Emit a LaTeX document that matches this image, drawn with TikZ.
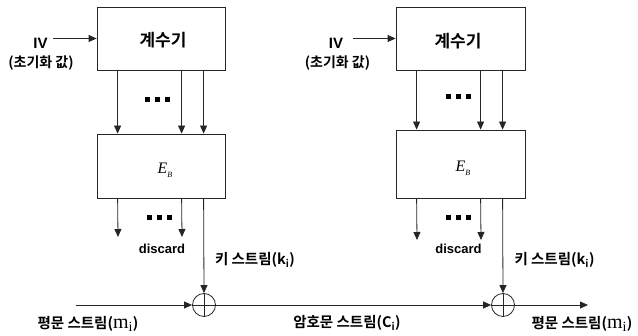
\documentclass[tikz,border=0pt]{standalone}
\usepackage{fontspec}
\setmainfont{Liberation Sans}
\newfontfamily\kr{Noto Sans CJK KR Bold}
\newfontfamily\tnr{Liberation Serif}
\usetikzlibrary{arrows.meta}
\newcommand\threedots[2]{\foreach \k in {-10,0,10}{\fill (#1+\k-2.5,#2-2.5) rectangle ++(5,5);}}
\begin{document}
\begin{tikzpicture}[x=1pt,y=-1pt,
  ln/.style={line width=0.8pt, draw=black!85},
  arr/.style={ln, -{Triangle[length=8pt,width=7pt]}},
  box/.style={draw=black!85, line width=0.8pt, minimum width=128pt, inner sep=0pt},
  xor/.style={circle, draw=black!85, line width=0.8pt, minimum size=23pt, inner sep=0pt},
  krlbl/.style={font=\kr\fontsize{14.5}{16}\selectfont, inner sep=0pt},
  ivlbl/.style={font=\bfseries\fontsize{15}{17}\selectfont, inner sep=0pt},
  dislbl/.style={font=\bfseries\fontsize{13}{15}\selectfont, inner sep=0pt},
  eb/.style={font=\tnr\itshape\fontsize{16}{18}\selectfont, inner sep=0pt}]
\useasboundingbox (0,0) rectangle (638,336);

% left chain
\node[box, minimum height=63pt] (c1) at (161,38.5) {};
\node[krlbl, font=\kr\fontsize{17}{19}\selectfont] (t1) at (163,40) {계수기};
\node[box, minimum height=64pt] (e1) at (161,166) {};
\node[eb] (eb1) at (165,170) {E\raisebox{-4pt}{\fontsize{8}{9}\selectfont B}};
\node[ivlbl] (iv1) at (40.5,43) {IV};
\node[krlbl, font=\kr\fontsize{14}{16}\selectfont] (init1) at (41,63) {(초기화 값)};
\coordinate (ivs1) at (53,38.5);
\draw[arr] (ivs1) -- (c1.west);
\draw[arr] ([xshift=21pt]c1.south west) -- ([xshift=21pt]e1.north west);
\draw[arr] ([xshift=85pt]c1.south west) -- ([xshift=85pt]e1.north west);
\draw[arr] ([xshift=107pt]c1.south west) -- ([xshift=107pt]e1.north west);
\threedots{157.5}{100}
\coordinate (da1) at (118,237);
\coordinate (db1) at (182,237);
\draw[arr] ([xshift=21pt]e1.south west) -- (da1);
\draw[arr] ([xshift=85pt]e1.south west) -- (db1);
\threedots{159.5}{218}
\node[dislbl] (dis1) at (162,249) {discard};
\node[xor] (x1) at (204,305) {};
\draw[ln] (x1.north) -- (x1.south) (x1.west) -- (x1.east);
\draw[arr] ([xshift=107pt]e1.south west) -- (x1.north);
\node[krlbl] (k1) at (255,260) {키 스트림(k\textsubscript{i})};
\coordinate (in1) at (76,305);
\draw[arr] (in1) -- (x1.west);
\node[krlbl] (p1) at (88,324) {평문 스트림({\tnr\fontsize{20}{22}\selectfont m\textsubscript{i}})};

% right chain
\node[box, minimum height=63pt, minimum width=129pt] (c2) at (460.5,38.5) {};
\node[krlbl, font=\kr\fontsize{17}{19}\selectfont] (t2) at (458,41) {계수기};
\node[box, minimum height=68pt, minimum width=129pt] (e2) at (460.5,164) {};
\node[eb] (eb2) at (463,168) {E\raisebox{-4pt}{\fontsize{8}{9}\selectfont B}};
\node[ivlbl] (iv2) at (336,43) {IV};
\node[krlbl, font=\kr\fontsize{14}{16}\selectfont] (init2) at (337.5,63) {(초기화 값)};
\coordinate (ivs2) at (353,38.5);
\draw[arr] (ivs2) -- (c2.west);
\draw[arr] ([xshift=21pt]c2.south west) -- ([xshift=21pt]e2.north west);
\draw[arr] ([xshift=85pt]c2.south west) -- ([xshift=85pt]e2.north west);
\draw[arr] ([xshift=107pt]c2.south west) -- ([xshift=107pt]e2.north west);
\threedots{458}{97}
\coordinate (da2) at (417,240);
\coordinate (db2) at (481,240);
\draw[arr] ([xshift=21pt]e2.south west) -- (da2);
\draw[arr] ([xshift=85pt]e2.south west) -- (db2);
\threedots{458}{218}
\node[dislbl] (dis2) at (458.5,249) {discard};
\node[xor] (x2) at (503,305) {};
\draw[ln] (x2.north) -- (x2.south) (x2.west) -- (x2.east);
\draw[arr] ([xshift=107pt]e2.south west) -- (x2.north);
\node[krlbl] (k2) at (554.5,260) {키 스트림(k\textsubscript{i})};
\draw[arr] (x1.east) -- (x2.west);
\node[krlbl] (cph) at (347,323) {암호문 스트림(C\textsubscript{i})};
\coordinate (out2) at (588,305);
\draw[arr] (x2.east) -- (out2);
\node[krlbl] (p2) at (582,324) {평문 스트림({\tnr\fontsize{20}{22}\selectfont m\textsubscript{i}})};
\end{tikzpicture}
\end{document}
